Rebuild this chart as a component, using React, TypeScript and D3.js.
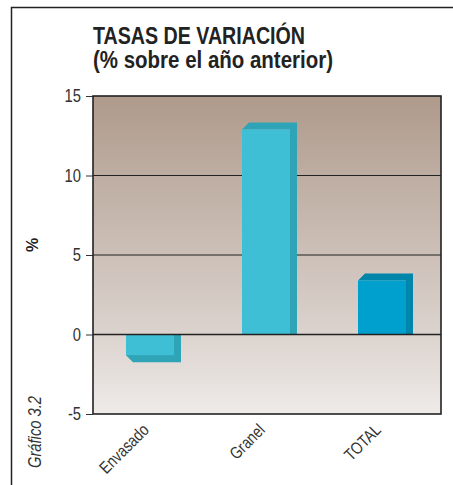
import React, { useEffect, useRef } from 'react';
import * as d3 from 'd3';

const categories = ['Envasado', 'Granel', 'TOTAL'];
const values = [-1.3, 12.9, 3.4];
const tickValues = [-5, 0, 5, 10, 15];
const frontColors = ['#3fbfd5', '#3fbfd5', '#00a0ce'];
const sideColors = ['#2ea4b6', '#2ea4b6', '#0085ab'];

const W = 453;
const H = 485;
const margin = { top: 96, bottom: 71, left: 93, right: 12 };
const depth = 7;
const font = "'Liberation Sans', Arial, sans-serif";
const narrow = 'scale(0.82,1)';

export default function App() {
  const root = useRef<SVGSVGElement>(null);

  useEffect(() => {
    const svg = d3.select(root.current);
    svg.selectAll('*').remove();

    const x = d3
      .scaleBand()
      .domain(categories)
      .range([margin.left, W - margin.right]);
    const y = d3
      .scaleLinear()
      .domain([-5, 15])
      .range([H - margin.bottom, margin.top]);

    // background gradient
    const grad = svg
      .append('defs')
      .append('linearGradient')
      .attr('id', 'bg')
      .attr('x1', 0)
      .attr('y1', 0)
      .attr('x2', 0)
      .attr('y2', 1);
    grad.append('stop').attr('offset', '0%').attr('stop-color', '#af9a8c');
    grad.append('stop').attr('offset', '75%').attr('stop-color', '#dbd3ce');
    grad.append('stop').attr('offset', '100%').attr('stop-color', '#efebe9');

    // outer frame
    svg
      .append('path')
      .attr('d', `M11.5,${H}V7.5H${W}`)
      .attr('fill', 'none')
      .attr('stroke', '#222')
      .attr('stroke-width', 1.5);

    svg
      .append('rect')
      .attr('x', margin.left)
      .attr('y', margin.top)
      .attr('width', W - margin.left - margin.right)
      .attr('height', H - margin.top - margin.bottom)
      .attr('fill', 'url(#bg)');

    // grid lines
    svg
      .append('g')
      .selectAll('line')
      .data(tickValues.filter(d => d !== 0 && d !== -5 && d !== 15))
      .enter()
      .append('line')
      .attr('x1', margin.left)
      .attr('x2', W - margin.right)
      .attr('y1', d => y(d))
      .attr('y2', d => y(d))
      .attr('stroke', '#222')
      .attr('stroke-width', 1.2);

    // left axis ticks
    const axis = svg
      .append('g')
      .attr('transform', `translate(${margin.left},0)`)
      .call(d3.axisLeft(y).tickValues(tickValues).tickSize(7).tickFormat(() => ''));
    axis.select('.domain').remove();
    axis.selectAll('line').attr('stroke', '#333');

    svg
      .append('g')
      .selectAll('text')
      .data(tickValues)
      .enter()
      .append('text')
      .attr('transform', d => `translate(81,${y(d) + 6}) ${narrow}`)
      .attr('text-anchor', 'end')
      .attr('font-family', font)
      .attr('font-size', 18)
      .attr('fill', '#333')
      .text(d => String(d));

    // bars
    const bars = svg
      .append('g')
      .selectAll('g')
      .data(values)
      .enter()
      .append('g');
    const x0 = (i: number) => (x(categories[i]) as number) + 33;
    const x1 = (i: number) => x0(i) + 48;
    const y0 = y(0);

    bars
      .append('path')
      .attr('fill', (d, i) => sideColors[i])
      .attr('d', (d, i) => {
        const yv = y(d);
        if (d >= 0) {
          return `M${x0(i)},${yv}L${x0(i) + depth},${yv - depth}H${x1(i) + depth}V${y0}H${x1(i)}V${yv}Z`;
        }
        return `M${x1(i)},${y0}H${x1(i) + depth}V${yv + depth}H${x0(i) + depth}L${x0(i)},${yv}Z`;
      });
    bars
      .append('rect')
      .attr('fill', (d, i) => frontColors[i])
      .attr('x', (d, i) => x0(i))
      .attr('width', 48)
      .attr('y', d => Math.min(y(d), y0))
      .attr('height', d => Math.abs(y(d) - y0));

    // zero line & border
    svg
      .append('line')
      .attr('x1', margin.left)
      .attr('x2', W - margin.right)
      .attr('y1', y0)
      .attr('y2', y0)
      .attr('stroke', '#222')
      .attr('stroke-width', 1.6);
    svg
      .append('rect')
      .attr('x', margin.left)
      .attr('y', margin.top)
      .attr('width', W - margin.left - margin.right)
      .attr('height', H - margin.top - margin.bottom)
      .attr('fill', 'none')
      .attr('stroke', '#222')
      .attr('stroke-width', 1.6);

    // category labels
    svg
      .append('g')
      .selectAll('text')
      .data(categories)
      .enter()
      .append('text')
      .attr('transform', d => `translate(${(x(d) as number) + x.bandwidth() / 2 - 1},431) rotate(-45) ${narrow}`)
      .attr('text-anchor', 'end')
      .attr('font-family', font)
      .attr('font-size', 17)
      .attr('fill', '#333')
      .text(d => d);

    // titles
    const title = svg
      .append('text')
      .attr('font-family', font)
      .attr('font-weight', 'bold')
      .attr('font-size', 24)
      .attr('fill', '#222');
    title
      .append('tspan')
      .attr('x', 93)
      .attr('y', 44)
      .attr('textLength', 212)
      .attr('lengthAdjust', 'spacingAndGlyphs')
      .text('TASAS DE VARIACIÓN');
    title
      .append('tspan')
      .attr('x', 93)
      .attr('y', 68)
      .attr('textLength', 240)
      .attr('lengthAdjust', 'spacingAndGlyphs')
      .text('(% sobre el año anterior)');

    svg
      .append('text')
      .attr('transform', 'translate(38,245) rotate(-90)')
      .attr('text-anchor', 'middle')
      .attr('font-family', font)
      .attr('font-weight', 'bold')
      .attr('font-size', 16)
      .attr('fill', '#222')
      .text('%');

    svg
      .append('text')
      .attr('transform', `translate(41,432) rotate(-90) ${narrow}`)
      .attr('text-anchor', 'middle')
      .attr('font-family', font)
      .attr('font-style', 'italic')
      .attr('font-size', 18)
      .attr('fill', '#333')
      .text('Gráfico 3.2');
  }, []);

  return (
    <svg
      ref={root}
      width={W}
      height={H}
      style={{ position: 'absolute', left: 0, top: 0, background: '#fff' }}
    />
  );
}
